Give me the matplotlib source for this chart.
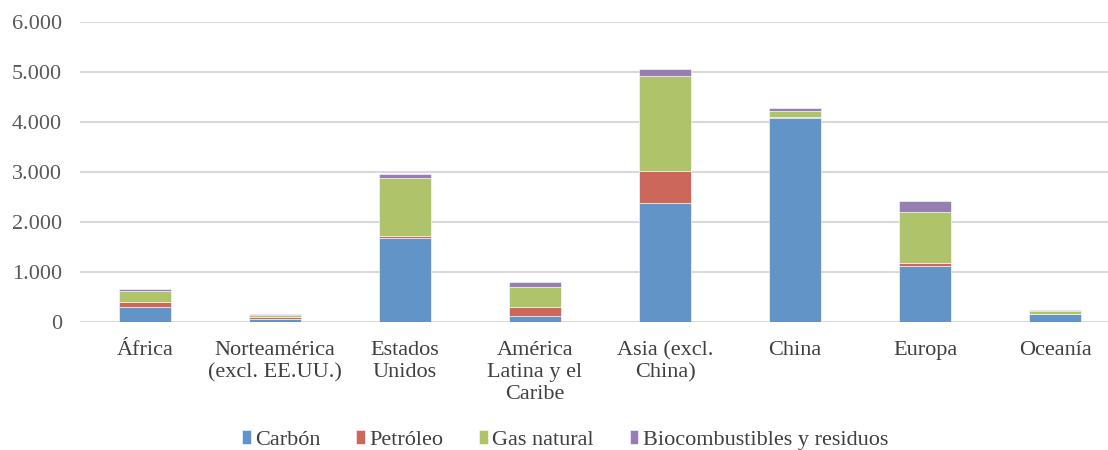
import matplotlib.pyplot as plt
import numpy as np

regiones = ['África', 'Norteamérica\n(excl. EE.UU.)', 'Estados\nUnidos',
            'América\nLatina y el\nCaribe', 'Asia (excl.\nChina)', 'China',
            'Europa', 'Oceanía']

carbon = [306, 55, 1673, 125, 2390, 4085, 1120, 165]
petroleo = [87, 40, 40, 180, 630, 10, 60, 5]
gas_natural = [233, 45, 1160, 390, 1905, 135, 1020, 57]
biocombustibles = [27, 25, 95, 105, 135, 45, 225, 20]

series = [('Carbón', carbon, '#6394C7'),
          ('Petróleo', petroleo, '#CC675B'),
          ('Gas natural', gas_natural, '#AFC46A'),
          ('Biocombustibles y residuos', biocombustibles, '#977EB2')]

FUENTE = 'Liberation Serif'

fig = plt.figure(figsize=(11.08, 4.5), dpi=100)
ax = fig.add_axes([80 / 1108, 128 / 450, 1040 / 1108, 300 / 450])

x = np.arange(len(regiones))
bottom = np.zeros(len(regiones))
for nombre, valores, color in series:
    ax.bar(x, valores, 0.4, bottom=bottom, color=color, label=nombre,
           edgecolor='#FFFFFF', linewidth=0.4, zorder=3)
    bottom += np.array(valores)

ax.set_xlim(-0.5, len(regiones) - 0.5)
ax.set_ylim(0, 6000)
ax.set_yticks(np.arange(0, 6001, 1000))
ax.set_yticklabels(['0' if v == 0 else f'{v // 1000}.000' for v in range(0, 6001, 1000)],
                   family=FUENTE, fontsize=16, color='#595959')
ax.set_xticks(x)
ax.set_xticklabels(regiones, linespacing=1.2, family=FUENTE, fontsize=16, color='#404040')

ax.grid(axis='y', color='#D9D9D9', linewidth=1.5, zorder=0)
for s in ax.spines.values():
    s.set_visible(False)
ax.tick_params(axis='both', length=0)
ax.tick_params(axis='y', pad=13)
ax.tick_params(axis='x', pad=14)

leg = ax.legend(loc='center', bbox_to_anchor=((565 - 80) / 1040, (440 - 322) / -300),
                ncol=4, frameon=False, prop={'family': FUENTE, 'size': 16},
                handlelength=0.4, handleheight=0.6, handletextpad=0.2,
                columnspacing=1.6, labelcolor='#404040')

fig.savefig('out.png', dpi=100)
